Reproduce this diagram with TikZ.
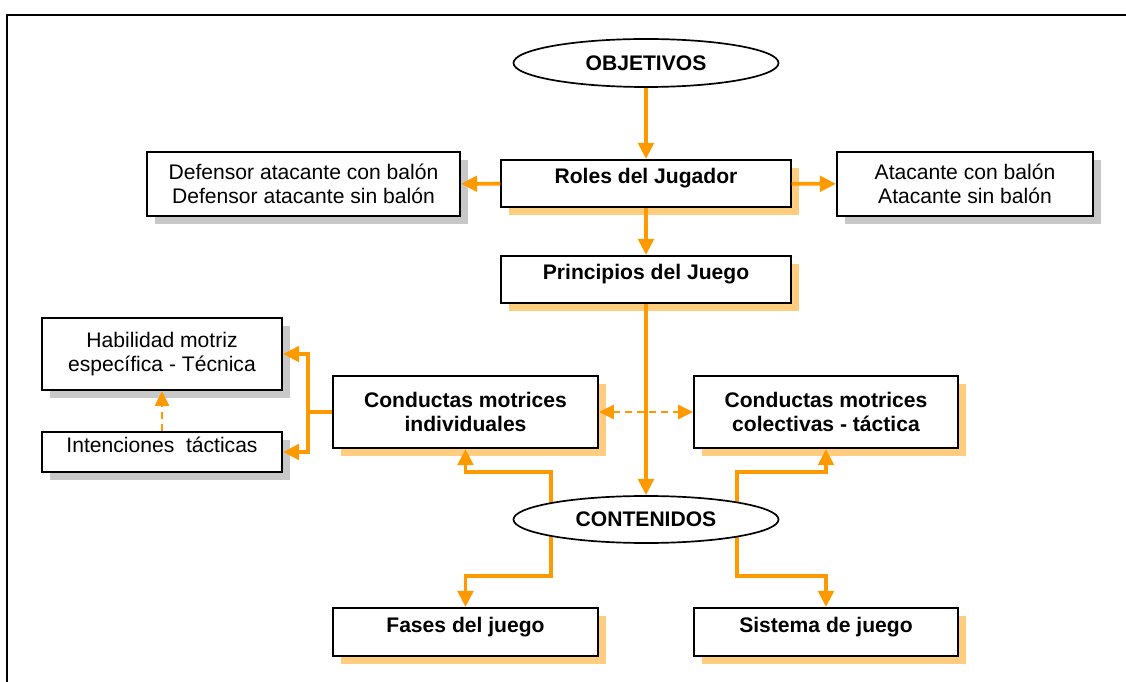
\documentclass[tikz,border=0pt]{standalone}
\usepackage{fontspec}
\setmainfont{Liberation Sans}
\usepackage{tikz}
\usetikzlibrary{arrows.meta}
\usetikzlibrary{shapes.geometric}
\usetikzlibrary{shadows}
\definecolor{flecha}{HTML}{FF9900}
\definecolor{sombranar}{HTML}{FFCC80}
\definecolor{sombragris}{HTML}{C8C8C8}

\begin{document}
\begin{tikzpicture}[x=0.025cm,y=-0.025cm,
  caja/.style={rectangle,draw=black,line width=1.4pt,fill=white,inner sep=0pt,align=center,font=\fontsize{15}{17.4}\selectfont},
  cajanar/.style={caja,font=\fontsize{15}{17.4}\selectfont\bfseries,drop shadow={shadow xshift=0.2cm,shadow yshift=-0.2cm,fill=sombranar,opacity=1}},
  cajagris/.style={caja,drop shadow={shadow xshift=0.2cm,shadow yshift=-0.2cm,fill=sombragris,opacity=1}},
  elipse/.style={ellipse,draw=black,line width=1.2pt,fill=white,inner sep=0pt,font=\fontsize{15}{17.4}\selectfont\bfseries},
  una/.style={text height=10pt,text depth=10pt},
  linea/.style={draw=flecha,line width=2.8pt},
  flechanar/.style={linea,-{Triangle[length=11.5pt,width=11pt]}},
  punteada/.style={draw=flecha,line width=1.6pt,dash pattern=on 5pt off 3.5pt},
  punta/.tip={Triangle[length=10.5pt,width=10pt]}
]
\useasboundingbox (0,0) rectangle (1126,682);
\draw[line width=1.5pt] (7,690) -- (7,15) -- (1135,15);

\node[elipse,minimum width=6.625cm,minimum height=1.2cm] (obj) at (646,63) {OBJETIVOS};
\node[cajanar,una,minimum width=7.225cm,minimum height=1.175cm] (rol) at (646,183.5) {Roles del Jugador};
\node[cajanar,una,minimum width=7.225cm,minimum height=1.175cm] (pri) at (646,279.5) {Principios del Juego};
\node[cajagris,minimum width=7.825cm,minimum height=1.6cm] (def) at (303.5,184) {Defensor atacante con balón\\Defensor atacante sin balón};
\node[cajagris,minimum width=6.4cm,minimum height=1.6cm] (ata) at (965,184) {Atacante con balón\\Atacante sin balón};
\node[cajagris,minimum width=6cm,minimum height=1.8cm] (hab) at (162,354) {Habilidad motriz\\específica - Técnica};
\node[cajagris,una,minimum width=6cm,minimum height=1cm] (int) at (162,452) {Intenciones\ \ tácticas};
\node[cajanar,minimum width=6.625cm,minimum height=1.8cm] (ind) at (465.5,412) {Conductas motrices\\individuales};
\node[cajanar,minimum width=6.6cm,minimum height=1.8cm] (col) at (826,412) {Conductas motrices\\colectivas - táctica};
\node[cajanar,una,minimum width=6.625cm,minimum height=1.2cm] (fas) at (465.5,632) {Fases del juego};
\node[cajanar,una,minimum width=6.6cm,minimum height=1.2cm] (sis) at (826,632) {Sistema de juego};

\draw[flechanar] (obj) -- (rol);
\draw[flechanar] (rol) -- (def);
\draw[flechanar] (rol) -- (ata);
\draw[flechanar] (rol) -- (pri);

\draw[linea] (ind.west) -- ++(-24,0) coordinate (brk);
\draw[flechanar] (brk) |- (hab.east);
\draw[flechanar] (brk) |- (int.east);
\draw[punteada,-punta] (int) -- (hab);
\draw[punteada,punta-punta] (ind) -- (col);

\coordinate (ci) at (551,519.5);
\coordinate (cd) at (737,519.5);
\draw[flechanar] (ci) -- ++(0,-47.5) -| (ind.south);
\draw[flechanar] (ci) -- ++(0,56.5) -| (fas.north);
\draw[flechanar] (cd) -- ++(0,-47.5) -| (col.south);
\draw[flechanar] (cd) -- ++(0,56.5) -| (sis.north);
\node[elipse,minimum width=6.625cm,minimum height=1.175cm] (cont) at (646,519.5) {CONTENIDOS};
\draw[flechanar] (pri) -- (cont);

\end{tikzpicture}
\end{document}
